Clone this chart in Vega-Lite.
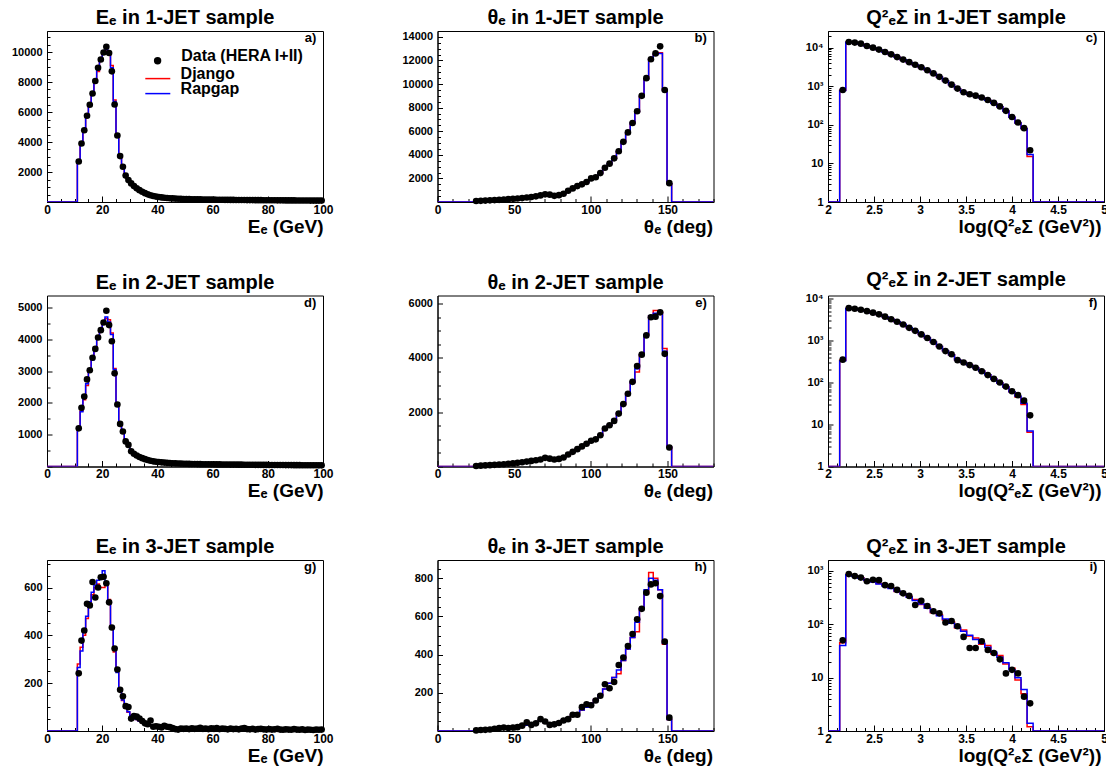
{
"$schema": "https://vega.github.io/schema/vega-lite/v6.json",
"padding": {"left": 10, "top": 7, "right": 0, "bottom": 0},
"background": "white",
"config": {
  "font": "Liberation Sans",
  "view": {"stroke": "#000000", "strokeWidth": 1},
  "axis": {"grid": false, "tickCount": 200, "domainColor": "#000000", "domainWidth": 1, "tickColor": "#000000", "tickWidth": 1, "labelColor": "#000000", "labelFont": "Liberation Sans", "labelFontWeight": "bold", "labelFlush": false, "labelOverlap": false, "labelSeparation": -40, "titleColor": "#000000", "titleFont": "Liberation Sans", "titleFontWeight": "bold"},
  "axisX": {"labelFontSize": 12, "labelPadding": 8, "titleFontSize": 19, "titleAnchor": "end", "titleAlign": "right", "titleBaseline": "alphabetic", "titleY": 30},
  "axisY": {"labelFontSize": 11, "labelPadding": 10, "labelSeparation": -40},
  "legend": {"title": null, "orient": "none", "padding": 0, "labelFont": "Liberation Sans", "labelFontWeight": "bold", "labelColor": "#000000", "labelBaseline": "alphabetic", "labelLimit": 400},
  "title": {"fontSize": 20, "fontWeight": "bold", "font": "Liberation Sans", "color": "#000000", "frame": "group", "anchor": "middle", "offset": 3, "baseline": "alphabetic"}
},
"datasets": {
"a": [{"x":0,"d":null,"dj":0,"rg":0},{"x":10.5,"d":null,"dj":0,"rg":0},
{"x":11.5,"d":2700,"dj":2700,"rg":2650},{"x":12.5,"d":3900,"dj":3880,"rg":3850},{"x":13.5,"d":4780,"dj":4720,"rg":4750},{"x":14.5,"d":5750,"dj":5680,"rg":5700},{"x":15.5,"d":6480,"dj":6450,"rg":6500},{"x":16.5,"d":7230,"dj":7250,"rg":7300},{"x":17.5,"d":8070,"dj":8000,"rg":8000},{"x":18.5,"d":8950,"dj":8700,"rg":8800},{"x":19.5,"d":9500,"dj":9400,"rg":9450},{"x":20.5,"d":9970,"dj":9950,"rg":9900},{"x":21.5,"d":10350,"dj":10100,"rg":10150},{"x":22.5,"d":9930,"dj":9900,"rg":9950},{"x":23.5,"d":8710,"dj":9100,"rg":8950},{"x":24.5,"d":6500,"dj":6800,"rg":6700},{"x":25.5,"d":4430,"dj":4400,"rg":4450},{"x":26.5,"d":3060,"dj":3050,"rg":3050},{"x":27.5,"d":2350,"dj":2300,"rg":2300},{"x":28.5,"d":1760,"dj":1740,"rg":1750},{"x":29.5,"d":1460,"dj":1450,"rg":1450},{"x":30.5,"d":1240,"dj":1230,"rg":1235},{"x":31.5,"d":1060,"dj":1050,"rg":1055},{"x":32.5,"d":910,"dj":905,"rg":905},{"x":33.5,"d":790,"dj":785,"rg":785},{"x":34.5,"d":680,"dj":675,"rg":678},{"x":35.5,"d":590,"dj":585,"rg":588},{"x":36.5,"d":510,"dj":508,"rg":508},{"x":37.5,"d":450,"dj":447,"rg":448},{"x":38.5,"d":400,"dj":398,"rg":398},{"x":39.5,"d":360,"dj":358,"rg":358},{"x":40.5,"d":330,"dj":328,"rg":328},
{"x":41.5,"d":305,"dj":305,"rg":305},{"x":42.5,"d":285,"dj":285,"rg":285},{"x":43.5,"d":268,"dj":268,"rg":268},{"x":44.5,"d":253,"dj":253,"rg":253},{"x":45.5,"d":240,"dj":240,"rg":240},{"x":46.5,"d":229,"dj":229,"rg":229},{"x":47.5,"d":219,"dj":219,"rg":219},{"x":48.5,"d":210,"dj":210,"rg":210},{"x":49.5,"d":202,"dj":202,"rg":202},{"x":50.5,"d":195,"dj":195,"rg":195},
{"x":51.5,"d":189,"dj":189,"rg":189},{"x":52.5,"d":184,"dj":184,"rg":184},{"x":53.5,"d":179,"dj":179,"rg":179},{"x":54.5,"d":175,"dj":175,"rg":175},{"x":55.5,"d":171,"dj":171,"rg":171},{"x":56.5,"d":167,"dj":167,"rg":167},{"x":57.5,"d":164,"dj":164,"rg":164},{"x":58.5,"d":161,"dj":161,"rg":161},{"x":59.5,"d":158,"dj":158,"rg":158},{"x":60.5,"d":155,"dj":155,"rg":155},
{"x":61.5,"d":152,"dj":152,"rg":152},{"x":62.5,"d":150,"dj":150,"rg":150},{"x":63.5,"d":147,"dj":147,"rg":147},{"x":64.5,"d":145,"dj":145,"rg":145},{"x":65.5,"d":143,"dj":143,"rg":143},{"x":66.5,"d":141,"dj":141,"rg":141},{"x":67.5,"d":139,"dj":139,"rg":139},{"x":68.5,"d":137,"dj":137,"rg":137},{"x":69.5,"d":135,"dj":135,"rg":135},{"x":70.5,"d":133,"dj":133,"rg":133},
{"x":71.5,"d":131,"dj":131,"rg":131},{"x":72.5,"d":129,"dj":129,"rg":129},{"x":73.5,"d":127,"dj":127,"rg":127},{"x":74.5,"d":126,"dj":126,"rg":126},{"x":75.5,"d":124,"dj":124,"rg":124},{"x":76.5,"d":122,"dj":122,"rg":122},{"x":77.5,"d":121,"dj":121,"rg":121},{"x":78.5,"d":119,"dj":119,"rg":119},{"x":79.5,"d":118,"dj":118,"rg":118},{"x":80.5,"d":116,"dj":116,"rg":116},
{"x":81.5,"d":115,"dj":115,"rg":115},{"x":82.5,"d":113,"dj":113,"rg":113},{"x":83.5,"d":112,"dj":112,"rg":112},{"x":84.5,"d":110,"dj":110,"rg":110},{"x":85.5,"d":109,"dj":109,"rg":109},{"x":86.5,"d":108,"dj":108,"rg":108},{"x":87.5,"d":106,"dj":106,"rg":106},{"x":88.5,"d":105,"dj":105,"rg":105},{"x":89.5,"d":104,"dj":104,"rg":104},{"x":90.5,"d":102,"dj":102,"rg":102},
{"x":91.5,"d":101,"dj":101,"rg":101},{"x":92.5,"d":100,"dj":100,"rg":100},{"x":93.5,"d":99,"dj":99,"rg":99},{"x":94.5,"d":98,"dj":98,"rg":98},{"x":95.5,"d":96,"dj":96,"rg":96},{"x":96.5,"d":95,"dj":95,"rg":95},{"x":97.5,"d":94,"dj":94,"rg":94},{"x":98.5,"d":93,"dj":93,"rg":93},{"x":99.5,"d":92,"dj":92,"rg":92},{"x":100,"d":null,"dj":92,"rg":92}],
"b": [{"x":0,"d":null,"dj":0,"rg":0},{"x":22.2,"d":null,"dj":0,"rg":0},
{"x":25.2,"d":80,"dj":80,"rg":80},{"x":28.2,"d":100,"dj":100,"rg":100},{"x":31.2,"d":120,"dj":120,"rg":120},{"x":34.2,"d":140,"dj":140,"rg":140},{"x":37.2,"d":160,"dj":160,"rg":160},{"x":40.2,"d":185,"dj":185,"rg":185},{"x":43.2,"d":210,"dj":210,"rg":210},{"x":46.2,"d":240,"dj":240,"rg":240},{"x":49.2,"d":270,"dj":270,"rg":270},{"x":52.2,"d":300,"dj":300,"rg":300},{"x":55.2,"d":330,"dj":330,"rg":330},{"x":58.2,"d":380,"dj":380,"rg":380},{"x":61.2,"d":420,"dj":420,"rg":420},{"x":64.2,"d":480,"dj":480,"rg":480},{"x":67.2,"d":560,"dj":560,"rg":560},{"x":70.2,"d":650,"dj":640,"rg":640},{"x":73.2,"d":620,"dj":610,"rg":610},{"x":76.2,"d":520,"dj":525,"rg":525},{"x":79.2,"d":580,"dj":580,"rg":580},{"x":82.2,"d":700,"dj":700,"rg":700},{"x":85.2,"d":950,"dj":940,"rg":940},{"x":88.2,"d":1150,"dj":1150,"rg":1150},{"x":91.2,"d":1350,"dj":1350,"rg":1350},{"x":94.2,"d":1500,"dj":1500,"rg":1500},{"x":97.2,"d":1700,"dj":1700,"rg":1700},{"x":100.2,"d":2000,"dj":1980,"rg":1980},{"x":103.2,"d":2100,"dj":2120,"rg":2120},{"x":106.2,"d":2450,"dj":2450,"rg":2450},{"x":109.2,"d":2900,"dj":2880,"rg":2880},{"x":112.2,"d":3250,"dj":3250,"rg":3250},{"x":115.2,"d":3700,"dj":3700,"rg":3700},{"x":118.2,"d":4300,"dj":4280,"rg":4280},{"x":121.2,"d":5100,"dj":5100,"rg":5100},{"x":124.2,"d":5900,"dj":5880,"rg":5880},{"x":127.2,"d":6700,"dj":6700,"rg":6700},{"x":130.2,"d":7700,"dj":7650,"rg":7650},{"x":133.2,"d":9000,"dj":8950,"rg":8950},{"x":136.2,"d":10500,"dj":10450,"rg":10450},{"x":139.2,"d":12100,"dj":12100,"rg":12100},{"x":142.2,"d":12600,"dj":12500,"rg":12500},{"x":145.2,"d":13200,"dj":12650,"rg":12600},{"x":148.2,"d":9500,"dj":9500,"rg":9500},{"x":151.2,"d":1600,"dj":1550,"rg":1550},
{"x":154.2,"d":null,"dj":0,"rg":0},{"x":180,"d":null,"dj":0,"rg":0}],
"c": [{"x":2.0,"d":null,"dj":1,"rg":1},{"x":2.094,"d":null,"dj":1,"rg":1},
{"x":2.160,"d":800,"dj":790,"rg":780},{"x":2.226,"d":14000,"dj":13800,"rg":13700},{"x":2.291,"d":13500,"dj":13300,"rg":13300},{"x":2.357,"d":12700,"dj":12500,"rg":12500},{"x":2.423,"d":11000,"dj":11100,"rg":11000},{"x":2.489,"d":10000,"dj":9900,"rg":9900},{"x":2.554,"d":8900,"dj":8800,"rg":8800},{"x":2.620,"d":7700,"dj":7700,"rg":7650},{"x":2.686,"d":6700,"dj":6650,"rg":6650},{"x":2.751,"d":5700,"dj":5700,"rg":5650},{"x":2.817,"d":4900,"dj":4850,"rg":4850},{"x":2.883,"d":4200,"dj":4150,"rg":4150},{"x":2.948,"d":3600,"dj":3550,"rg":3550},{"x":3.014,"d":3100,"dj":3050,"rg":3050},{"x":3.080,"d":2600,"dj":2580,"rg":2580},{"x":3.146,"d":2150,"dj":2130,"rg":2130},{"x":3.211,"d":1750,"dj":1740,"rg":1740},{"x":3.277,"d":1400,"dj":1390,"rg":1390},{"x":3.343,"d":1100,"dj":1090,"rg":1090},{"x":3.408,"d":870,"dj":860,"rg":865},{"x":3.474,"d":700,"dj":700,"rg":700},{"x":3.540,"d":620,"dj":615,"rg":615},{"x":3.605,"d":570,"dj":565,"rg":565},{"x":3.671,"d":510,"dj":505,"rg":505},{"x":3.737,"d":440,"dj":435,"rg":435},{"x":3.803,"d":370,"dj":365,"rg":365},{"x":3.868,"d":300,"dj":295,"rg":295},{"x":3.934,"d":230,"dj":228,"rg":228},{"x":4.000,"d":160,"dj":158,"rg":158},{"x":4.065,"d":115,"dj":112,"rg":112},{"x":4.131,"d":82,"dj":80,"rg":80},{"x":4.197,"d":22,"dj":15,"rg":17},
{"x":4.262,"d":null,"dj":1,"rg":1},{"x":5.0,"d":null,"dj":1,"rg":1}],
"d": [{"x":0,"d":null,"dj":0,"rg":0},{"x":10.5,"d":null,"dj":0,"rg":0},
{"x":11.5,"d":1200,"dj":1200,"rg":1180},{"x":12.5,"d":1850,"dj":1750,"rg":1720},{"x":13.5,"d":2200,"dj":2100,"rg":2150},{"x":14.5,"d":2740,"dj":2550,"rg":2600},{"x":15.5,"d":3030,"dj":3050,"rg":3000},{"x":16.5,"d":3420,"dj":3380,"rg":3350},{"x":17.5,"d":3700,"dj":3680,"rg":3700},{"x":18.5,"d":4060,"dj":4050,"rg":4000},{"x":19.5,"d":4290,"dj":4250,"rg":4300},{"x":20.5,"d":4530,"dj":4550,"rg":4500},{"x":21.5,"d":4900,"dj":4650,"rg":4700},{"x":22.5,"d":4450,"dj":4620,"rg":4550},{"x":23.5,"d":3940,"dj":4200,"rg":4150},{"x":24.5,"d":2930,"dj":3080,"rg":3050},{"x":25.5,"d":1950,"dj":1970,"rg":1950},{"x":26.5,"d":1340,"dj":1330,"rg":1330},{"x":27.5,"d":1100,"dj":1080,"rg":1080},{"x":28.5,"d":790,"dj":790,"rg":790},{"x":29.5,"d":680,"dj":670,"rg":670},{"x":30.5,"d":480,"dj":480,"rg":480},
{"x":31.5,"d":400,"dj":400,"rg":400},{"x":32.5,"d":345,"dj":345,"rg":345},{"x":33.5,"d":300,"dj":300,"rg":300},{"x":34.5,"d":262,"dj":262,"rg":262},{"x":35.5,"d":230,"dj":230,"rg":230},{"x":36.5,"d":203,"dj":203,"rg":203},{"x":37.5,"d":180,"dj":180,"rg":180},{"x":38.5,"d":162,"dj":162,"rg":162},{"x":39.5,"d":150,"dj":150,"rg":150},{"x":40.5,"d":140,"dj":140,"rg":140},
{"x":41.5,"d":130,"dj":130,"rg":130},{"x":42.5,"d":122,"dj":122,"rg":122},{"x":43.5,"d":115,"dj":115,"rg":115},{"x":44.5,"d":109,"dj":109,"rg":109},{"x":45.5,"d":104,"dj":104,"rg":104},{"x":46.5,"d":99,"dj":99,"rg":99},{"x":47.5,"d":95,"dj":95,"rg":95},{"x":48.5,"d":91,"dj":91,"rg":91},{"x":49.5,"d":88,"dj":88,"rg":88},{"x":50.5,"d":85,"dj":85,"rg":85},
{"x":51.5,"d":82,"dj":82,"rg":82},{"x":52.5,"d":80,"dj":80,"rg":80},{"x":53.5,"d":78,"dj":78,"rg":78},{"x":54.5,"d":76,"dj":76,"rg":76},{"x":55.5,"d":74,"dj":74,"rg":74},{"x":56.5,"d":72,"dj":72,"rg":72},{"x":57.5,"d":71,"dj":71,"rg":71},{"x":58.5,"d":69,"dj":69,"rg":69},{"x":59.5,"d":68,"dj":68,"rg":68},{"x":60.5,"d":67,"dj":67,"rg":67},
{"x":61.5,"d":66,"dj":66,"rg":66},{"x":62.5,"d":65,"dj":65,"rg":65},{"x":63.5,"d":64,"dj":64,"rg":64},{"x":64.5,"d":63,"dj":63,"rg":63},{"x":65.5,"d":62,"dj":62,"rg":62},{"x":66.5,"d":61,"dj":61,"rg":61},{"x":67.5,"d":60,"dj":60,"rg":60},{"x":68.5,"d":59,"dj":59,"rg":59},{"x":69.5,"d":58,"dj":58,"rg":58},{"x":70.5,"d":57,"dj":57,"rg":57},
{"x":71.5,"d":56,"dj":56,"rg":56},{"x":72.5,"d":55,"dj":55,"rg":55},{"x":73.5,"d":55,"dj":55,"rg":55},{"x":74.5,"d":54,"dj":54,"rg":54},{"x":75.5,"d":53,"dj":53,"rg":53},{"x":76.5,"d":52,"dj":52,"rg":52},{"x":77.5,"d":52,"dj":52,"rg":52},{"x":78.5,"d":51,"dj":51,"rg":51},{"x":79.5,"d":50,"dj":50,"rg":50},{"x":80.5,"d":49,"dj":49,"rg":49},
{"x":81.5,"d":49,"dj":49,"rg":49},{"x":82.5,"d":48,"dj":48,"rg":48},{"x":83.5,"d":47,"dj":47,"rg":47},{"x":84.5,"d":47,"dj":47,"rg":47},{"x":85.5,"d":46,"dj":46,"rg":46},{"x":86.5,"d":45,"dj":45,"rg":45},{"x":87.5,"d":45,"dj":45,"rg":45},{"x":88.5,"d":44,"dj":44,"rg":44},{"x":89.5,"d":43,"dj":43,"rg":43},{"x":90.5,"d":43,"dj":43,"rg":43},
{"x":91.5,"d":42,"dj":42,"rg":42},{"x":92.5,"d":41,"dj":41,"rg":41},{"x":93.5,"d":41,"dj":41,"rg":41},{"x":94.5,"d":40,"dj":40,"rg":40},{"x":95.5,"d":39,"dj":39,"rg":39},{"x":96.5,"d":39,"dj":39,"rg":39},{"x":97.5,"d":38,"dj":38,"rg":38},{"x":98.5,"d":37,"dj":37,"rg":37},{"x":99.5,"d":37,"dj":37,"rg":37},{"x":100,"d":null,"dj":37,"rg":37}],
"e": [{"x":0,"d":null,"dj":0,"rg":0},{"x":22.2,"d":null,"dj":0,"rg":0},
{"x":25.2,"d":20,"dj":20,"rg":20},{"x":28.2,"d":30,"dj":30,"rg":30},{"x":31.2,"d":40,"dj":40,"rg":40},{"x":34.2,"d":50,"dj":50,"rg":50},{"x":37.2,"d":60,"dj":60,"rg":60},{"x":40.2,"d":72,"dj":72,"rg":72},{"x":43.2,"d":85,"dj":85,"rg":85},{"x":46.2,"d":100,"dj":100,"rg":100},{"x":49.2,"d":115,"dj":115,"rg":115},{"x":52.2,"d":135,"dj":135,"rg":135},{"x":55.2,"d":155,"dj":155,"rg":155},{"x":58.2,"d":180,"dj":180,"rg":180},{"x":61.2,"d":205,"dj":205,"rg":205},{"x":64.2,"d":230,"dj":230,"rg":230},{"x":67.2,"d":260,"dj":260,"rg":260},{"x":70.2,"d":320,"dj":310,"rg":310},{"x":73.2,"d":290,"dj":285,"rg":285},{"x":76.2,"d":260,"dj":265,"rg":265},{"x":79.2,"d":280,"dj":280,"rg":280},{"x":82.2,"d":330,"dj":330,"rg":330},{"x":85.2,"d":440,"dj":440,"rg":440},{"x":88.2,"d":540,"dj":540,"rg":540},{"x":91.2,"d":640,"dj":640,"rg":640},{"x":94.2,"d":740,"dj":740,"rg":740},{"x":97.2,"d":840,"dj":840,"rg":840},{"x":100.2,"d":950,"dj":950,"rg":950},{"x":103.2,"d":1000,"dj":1010,"rg":1010},{"x":106.2,"d":1150,"dj":1160,"rg":1160},{"x":109.2,"d":1400,"dj":1400,"rg":1400},{"x":112.2,"d":1520,"dj":1530,"rg":1530},{"x":115.2,"d":1680,"dj":1700,"rg":1700},{"x":118.2,"d":1950,"dj":1960,"rg":1960},{"x":121.2,"d":2300,"dj":2280,"rg":2300},{"x":124.2,"d":2680,"dj":2680,"rg":2680},{"x":127.2,"d":3120,"dj":3100,"rg":3120},{"x":130.2,"d":3700,"dj":3480,"rg":3600},{"x":133.2,"d":4120,"dj":4120,"rg":4120},{"x":136.2,"d":4830,"dj":4850,"rg":4850},{"x":139.2,"d":5500,"dj":5550,"rg":5550},{"x":142.2,"d":5520,"dj":5750,"rg":5650},{"x":145.2,"d":5680,"dj":5700,"rg":5650},{"x":148.2,"d":4150,"dj":4350,"rg":4250},{"x":151.2,"d":700,"dj":720,"rg":720},
{"x":154.2,"d":null,"dj":0,"rg":0},{"x":180,"d":null,"dj":0,"rg":0}],
"f": [{"x":2.0,"d":null,"dj":1,"rg":1},{"x":2.094,"d":null,"dj":1,"rg":1},
{"x":2.160,"d":350,"dj":340,"rg":330},{"x":2.226,"d":5900,"dj":5800,"rg":5800},{"x":2.291,"d":5700,"dj":5650,"rg":5650},{"x":2.357,"d":5400,"dj":5350,"rg":5350},{"x":2.423,"d":5000,"dj":4950,"rg":4950},{"x":2.489,"d":4600,"dj":4550,"rg":4550},{"x":2.554,"d":4200,"dj":4150,"rg":4150},{"x":2.620,"d":3700,"dj":3700,"rg":3700},{"x":2.686,"d":3200,"dj":3200,"rg":3200},{"x":2.751,"d":2800,"dj":2780,"rg":2780},{"x":2.817,"d":2400,"dj":2400,"rg":2400},{"x":2.883,"d":2000,"dj":2000,"rg":2000},{"x":2.948,"d":1700,"dj":1700,"rg":1700},{"x":3.014,"d":1400,"dj":1400,"rg":1400},{"x":3.080,"d":1150,"dj":1150,"rg":1150},{"x":3.146,"d":920,"dj":920,"rg":920},{"x":3.211,"d":720,"dj":720,"rg":720},{"x":3.277,"d":560,"dj":570,"rg":570},{"x":3.343,"d":470,"dj":460,"rg":460},{"x":3.408,"d":340,"dj":350,"rg":350},{"x":3.474,"d":300,"dj":300,"rg":300},{"x":3.540,"d":260,"dj":262,"rg":262},{"x":3.605,"d":225,"dj":226,"rg":226},{"x":3.671,"d":185,"dj":188,"rg":188},{"x":3.737,"d":150,"dj":152,"rg":152},{"x":3.803,"d":122,"dj":122,"rg":122},{"x":3.868,"d":100,"dj":98,"rg":98},{"x":3.934,"d":80,"dj":78,"rg":78},{"x":4.000,"d":62,"dj":60,"rg":60},{"x":4.065,"d":50,"dj":45,"rg":47},{"x":4.131,"d":37,"dj":30,"rg":32},{"x":4.197,"d":16.5,"dj":6.5,"rg":7},
{"x":4.262,"d":null,"dj":1,"rg":1},{"x":5.0,"d":null,"dj":1,"rg":1}],
"g": [{"x":0,"d":null,"dj":0,"rg":0},{"x":10.5,"d":null,"dj":0,"rg":0},
{"x":11.5,"d":241,"dj":280,"rg":265},{"x":12.5,"d":378,"dj":350,"rg":335},{"x":13.5,"d":420,"dj":400,"rg":420},{"x":14.5,"d":532,"dj":470,"rg":480},{"x":15.5,"d":525,"dj":530,"rg":540},{"x":16.5,"d":623,"dj":570,"rg":580},{"x":17.5,"d":558,"dj":600,"rg":610},{"x":18.5,"d":600,"dj":615,"rg":630},{"x":19.5,"d":643,"dj":600,"rg":640},{"x":20.5,"d":645,"dj":600,"rg":670},{"x":21.5,"d":618,"dj":610,"rg":620},{"x":22.5,"d":538,"dj":550,"rg":545},{"x":23.5,"d":433,"dj":430,"rg":440},{"x":24.5,"d":345,"dj":330,"rg":340},{"x":25.5,"d":257,"dj":250,"rg":245},{"x":26.5,"d":172,"dj":170,"rg":175},{"x":27.5,"d":145,"dj":128,"rg":130},{"x":28.5,"d":104,"dj":95,"rg":98},{"x":29.5,"d":100,"dj":78,"rg":80},{"x":30.5,"d":52,"dj":66,"rg":65},{"x":31.5,"d":62,"dj":56,"rg":55},{"x":32.5,"d":60,"dj":48,"rg":48},{"x":33.5,"d":52,"dj":42,"rg":42},{"x":34.5,"d":42,"dj":36,"rg":37},{"x":35.5,"d":32,"dj":32,"rg":32},{"x":36.5,"d":28,"dj":28,"rg":29},{"x":37.5,"d":44,"dj":25,"rg":26},{"x":38.5,"d":18,"dj":23,"rg":23},{"x":39.5,"d":20,"dj":21,"rg":21},{"x":40.5,"d":18,"dj":19,"rg":19},
{"x":41.5,"d":15,"dj":18,"rg":18},{"x":42.5,"d":22,"dj":17,"rg":17},{"x":43.5,"d":18,"dj":16,"rg":16},{"x":44.5,"d":16,"dj":15,"rg":15},{"x":45.5,"d":12,"dj":14,"rg":14},{"x":46.5,"d":8,"dj":13,"rg":13},{"x":47.5,"d":6,"dj":12,"rg":12},{"x":48.5,"d":10,"dj":12,"rg":12},{"x":49.5,"d":9,"dj":11,"rg":11},
{"x":50.5,"d":10,"dj":11,"rg":11},{"x":51.5,"d":8,"dj":11,"rg":11},{"x":52.5,"d":11,"dj":10,"rg":10},{"x":53.5,"d":9,"dj":10,"rg":10},{"x":54.5,"d":10,"dj":10,"rg":10},{"x":55.5,"d":13,"dj":10,"rg":10},{"x":56.5,"d":9,"dj":10,"rg":10},{"x":57.5,"d":10,"dj":9,"rg":9},{"x":58.5,"d":8,"dj":9,"rg":9},{"x":59.5,"d":11,"dj":9,"rg":9},
{"x":60.5,"d":9,"dj":9,"rg":9},{"x":61.5,"d":12,"dj":9,"rg":9},{"x":62.5,"d":8,"dj":9,"rg":9},{"x":63.5,"d":10,"dj":9,"rg":9},{"x":64.5,"d":9,"dj":8,"rg":8},{"x":65.5,"d":7,"dj":8,"rg":8},{"x":66.5,"d":10,"dj":8,"rg":8},{"x":67.5,"d":8,"dj":8,"rg":8},{"x":68.5,"d":9,"dj":8,"rg":8},{"x":69.5,"d":7,"dj":8,"rg":8},
{"x":70.5,"d":10,"dj":8,"rg":8},{"x":71.5,"d":12,"dj":8,"rg":8},{"x":72.5,"d":8,"dj":7,"rg":7},{"x":73.5,"d":7,"dj":7,"rg":7},{"x":74.5,"d":9,"dj":7,"rg":7},{"x":75.5,"d":6,"dj":7,"rg":7},{"x":76.5,"d":8,"dj":7,"rg":7},{"x":77.5,"d":9,"dj":7,"rg":7},{"x":78.5,"d":7,"dj":7,"rg":7},{"x":79.5,"d":6,"dj":7,"rg":7},
{"x":80.5,"d":8,"dj":7,"rg":7},{"x":81.5,"d":6,"dj":6,"rg":6},{"x":82.5,"d":7,"dj":6,"rg":6},{"x":83.5,"d":9,"dj":6,"rg":6},{"x":84.5,"d":6,"dj":6,"rg":6},{"x":85.5,"d":5,"dj":6,"rg":6},{"x":86.5,"d":7,"dj":6,"rg":6},{"x":87.5,"d":6,"dj":6,"rg":6},{"x":88.5,"d":5,"dj":6,"rg":6},{"x":89.5,"d":8,"dj":6,"rg":6},
{"x":90.5,"d":6,"dj":6,"rg":6},{"x":91.5,"d":5,"dj":6,"rg":6},{"x":92.5,"d":7,"dj":5,"rg":5},{"x":93.5,"d":4,"dj":5,"rg":5},{"x":94.5,"d":6,"dj":5,"rg":5},{"x":95.5,"d":5,"dj":5,"rg":5},{"x":96.5,"d":4,"dj":5,"rg":5},{"x":97.5,"d":6,"dj":5,"rg":5},{"x":98.5,"d":5,"dj":5,"rg":5},{"x":99.5,"d":6,"dj":5,"rg":5},{"x":100,"d":null,"dj":5,"rg":5}],
"h": [{"x":0,"d":null,"dj":0,"rg":0},{"x":22.2,"d":null,"dj":0,"rg":0},
{"x":25.2,"d":3,"dj":3,"rg":3},{"x":28.2,"d":5,"dj":5,"rg":5},{"x":31.2,"d":6,"dj":6,"rg":6},{"x":34.2,"d":8,"dj":8,"rg":8},{"x":37.2,"d":12,"dj":10,"rg":10},{"x":40.2,"d":15,"dj":12,"rg":12},{"x":43.2,"d":18,"dj":14,"rg":14},{"x":46.2,"d":16,"dj":16,"rg":16},{"x":49.2,"d":18,"dj":19,"rg":19},{"x":52.2,"d":20,"dj":22,"rg":22},{"x":55.2,"d":28,"dj":26,"rg":26},{"x":58.2,"d":45,"dj":30,"rg":30},{"x":61.2,"d":32,"dj":35,"rg":35},{"x":64.2,"d":40,"dj":42,"rg":42},{"x":67.2,"d":62,"dj":55,"rg":55},{"x":70.2,"d":50,"dj":45,"rg":45},{"x":73.2,"d":32,"dj":35,"rg":35},{"x":76.2,"d":35,"dj":40,"rg":40},{"x":79.2,"d":42,"dj":48,"rg":48},{"x":82.2,"d":55,"dj":58,"rg":58},{"x":85.2,"d":62,"dj":70,"rg":70},{"x":88.2,"d":85,"dj":82,"rg":82},{"x":91.2,"d":85,"dj":95,"rg":95},{"x":94.2,"d":125,"dj":110,"rg":110},{"x":97.2,"d":140,"dj":125,"rg":125},{"x":100.2,"d":135,"dj":145,"rg":145},{"x":103.2,"d":160,"dj":165,"rg":165},{"x":106.2,"d":185,"dj":190,"rg":190},{"x":109.2,"d":245,"dj":220,"rg":220},{"x":112.2,"d":224,"dj":250,"rg":250},{"x":115.2,"d":257,"dj":280,"rg":280},{"x":118.2,"d":346,"dj":300,"rg":320},{"x":121.2,"d":385,"dj":370,"rg":370},{"x":124.2,"d":445,"dj":430,"rg":430},{"x":127.2,"d":508,"dj":490,"rg":490},{"x":130.2,"d":585,"dj":520,"rg":570},{"x":133.2,"d":640,"dj":640,"rg":640},{"x":136.2,"d":725,"dj":720,"rg":740},{"x":139.2,"d":768,"dj":830,"rg":800},{"x":142.2,"d":774,"dj":800,"rg":790},{"x":145.2,"d":707,"dj":740,"rg":740},{"x":148.2,"d":468,"dj":455,"rg":460},{"x":151.2,"d":70,"dj":60,"rg":60},
{"x":154.2,"d":null,"dj":0,"rg":0},{"x":180,"d":null,"dj":0,"rg":0}],
"i": [{"x":2.0,"d":null,"dj":1,"rg":1},{"x":2.094,"d":null,"dj":1,"rg":1},
{"x":2.160,"d":50,"dj":45,"rg":40},{"x":2.226,"d":870,"dj":860,"rg":850},{"x":2.291,"d":800,"dj":800,"rg":790},{"x":2.357,"d":750,"dj":740,"rg":730},{"x":2.423,"d":640,"dj":660,"rg":670},{"x":2.489,"d":680,"dj":630,"rg":620},{"x":2.554,"d":670,"dj":580,"rg":570},{"x":2.620,"d":540,"dj":530,"rg":520},{"x":2.686,"d":520,"dj":480,"rg":470},{"x":2.751,"d":440,"dj":410,"rg":420},{"x":2.817,"d":380,"dj":375,"rg":370},{"x":2.883,"d":340,"dj":330,"rg":320},{"x":2.948,"d":230,"dj":290,"rg":280},{"x":3.014,"d":275,"dj":235,"rg":240},{"x":3.080,"d":220,"dj":205,"rg":200},{"x":3.146,"d":175,"dj":165,"rg":170},{"x":3.211,"d":160,"dj":150,"rg":145},{"x":3.277,"d":108,"dj":120,"rg":125},{"x":3.343,"d":115,"dj":110,"rg":105},{"x":3.408,"d":92,"dj":85,"rg":88},{"x":3.474,"d":58,"dj":78,"rg":74},{"x":3.540,"d":36,"dj":60,"rg":62},{"x":3.605,"d":36,"dj":55,"rg":52},{"x":3.671,"d":48,"dj":42,"rg":44},{"x":3.737,"d":33,"dj":40,"rg":37},{"x":3.803,"d":29,"dj":28,"rg":30},{"x":3.868,"d":22,"dj":26,"rg":24},{"x":3.934,"d":12,"dj":18,"rg":19},{"x":4.000,"d":14,"dj":15,"rg":14},{"x":4.065,"d":12,"dj":9,"rg":10},{"x":4.131,"d":4.4,"dj":5,"rg":6},{"x":4.197,"d":3.3,"dj":1.2,"rg":1.4},
{"x":4.262,"d":null,"dj":1,"rg":1},{"x":5.0,"d":null,"dj":1,"rg":1}]
},
"columns": 3,
"spacing": {"row": 93.5, "column": 114.5},
"bounds": "flush",
"resolve": {"scale": {"color": "independent", "fill": "independent", "stroke": "independent", "shape": "independent"}},
"concat": [
{"width": 276, "height": 171, "title": "Eₑ in 1-JET sample", "data": {"name": "a"},
 "encoding": {"x": {"field": "x", "type": "quantitative", "scale": {"domain": [0, 100], "nice": false, "zero": false}, "axis": {"title": "Eₑ (GeV)", "titleX": 276, "tickCount": 200, "values": [0,5,10,15,20,25,30,35,40,45,50,55,60,65,70,75,80,85,90,95,100], "format": "d", "labelExpr": "datum.value % 20 === 0 ? datum.label : ''", "tickSize": {"condition": {"test": "datum.value % 20 === 0", "value": -6}, "value": -3.5}}}},
 "layer": [
  {"mark": {"type": "line", "interpolate": "step", "color": "#ff0000", "strokeWidth": 1.5, "clip": true}, "encoding": {"y": {"field": "dj", "type": "quantitative", "scale": {"domain": [0, 11400], "nice": false}, "axis": {"title": null, "tickCount": 200, "values": [0,500,1000,1500,2000,2500,3000,3500,4000,4500,5000,5500,6000,6500,7000,7500,8000,8500,9000,9500,10000,10500,11000], "format": "d", "labelExpr": "datum.value % 2000 === 0 && datum.value > 0 ? datum.label : ''", "labelFontSize": {"condition": {"test": "datum.value % 2000 === 0 && datum.value > 0", "value": 11}, "value": 0}, "tickSize": {"condition": {"test": "datum.value % 2000 === 0", "value": -5}, "value": -3}}},
    "stroke": {"datum": "Django", "type": "nominal", "scale": {"domain": ["Django"], "range": ["#ff0000"]}, "legend": {"legendX": 97.3, "legendY": 34.1, "symbolType": "stroke", "symbolSize": 625, "symbolStrokeWidth": 1.5, "labelOffset": 9.3, "labelFontSize": 16}}}},
  {"mark": {"type": "line", "interpolate": "step", "color": "#0000ff", "strokeWidth": 1.5, "clip": true}, "encoding": {"y": {"field": "rg", "type": "quantitative", "title": null},
    "color": {"datum": "Rapgap", "type": "nominal", "scale": {"domain": ["Rapgap"], "range": ["#0000ff"]}, "legend": {"legendX": 97.3, "legendY": 49.1, "symbolType": "stroke", "symbolSize": 625, "symbolStrokeWidth": 1.5, "labelOffset": 9.3, "labelFontSize": 16}}}},
  {"mark": {"type": "point", "filled": true, "size": 44, "opacity": 1, "strokeWidth": 0}, "encoding": {"y": {"field": "d", "type": "quantitative", "title": null},
    "fill": {"datum": "Data (HERA I+II)", "type": "nominal", "scale": {"domain": ["Data (HERA I+II)"], "range": ["#000000"]}, "legend": {"legendX": 102.6, "legendY": 21.75, "symbolType": "circle", "symbolSize": 55, "symbolStrokeWidth": 0, "labelOffset": 15.6, "labelFontSize": 16}},
    "shape": {"datum": "a)", "type": "nominal", "scale": {"domain": ["a)"], "range": ["circle"]}, "legend": {"legendX": 244.8, "legendY": 4.5, "symbolSize": 0, "symbolOpacity": 0, "symbolStrokeWidth": 0, "labelOffset": 0, "labelFontSize": 13}}}}
 ]},
{"width": 276, "height": 171, "title": "θₑ in 1-JET sample", "data": {"name": "b"},
 "encoding": {"x": {"field": "x", "type": "quantitative", "scale": {"domain": [0, 180], "nice": false, "zero": false}, "axis": {"title": "θₑ (deg)", "titleX": 275, "tickCount": 200, "values": [0,10,20,30,40,50,60,70,80,90,100,110,120,130,140,150,160,170,180], "format": "d", "labelExpr": "datum.value % 50 === 0 ? datum.label : ''", "tickSize": {"condition": {"test": "datum.value % 50 === 0", "value": -6}, "value": -3.5}}}},
 "layer": [
  {"mark": {"type": "line", "interpolate": "step", "color": "#ff0000", "strokeWidth": 1.5, "clip": true}, "encoding": {"y": {"field": "dj", "type": "quantitative", "scale": {"domain": [0, 14500], "nice": false}, "axis": {"title": null, "tickCount": 200, "values": [0,500,1000,1500,2000,2500,3000,3500,4000,4500,5000,5500,6000,6500,7000,7500,8000,8500,9000,9500,10000,10500,11000,11500,12000,12500,13000,13500,14000,14500], "format": "d", "labelExpr": "datum.value % 2000 === 0 && datum.value > 0 ? datum.label : ''", "labelFontSize": {"condition": {"test": "datum.value % 2000 === 0 && datum.value > 0", "value": 11}, "value": 0}, "tickSize": {"condition": {"test": "datum.value % 2000 === 0", "value": -5}, "value": -3}}}}},
  {"mark": {"type": "line", "interpolate": "step", "color": "#0000ff", "strokeWidth": 1.5, "clip": true}, "encoding": {"y": {"field": "rg", "type": "quantitative", "title": null}}},
  {"mark": {"type": "point", "filled": true, "color": "#000000", "size": 44, "opacity": 1, "strokeWidth": 0}, "encoding": {"y": {"field": "d", "type": "quantitative", "title": null},
    "shape": {"datum": "b)", "type": "nominal", "scale": {"domain": ["b)"], "range": ["circle"]}, "legend": {"legendX": 244.1, "legendY": 4.5, "symbolSize": 0, "symbolOpacity": 0, "symbolStrokeWidth": 0, "labelOffset": 0, "labelFontSize": 13}}}}
 ]},
{"width": 276, "height": 171, "title": "Q²ₑΣ in 1-JET sample", "data": {"name": "c"},
 "encoding": {"x": {"field": "x", "type": "quantitative", "scale": {"domain": [2, 5], "nice": false, "zero": false}, "axis": {"title": "log(Q²ₑΣ (GeV²))", "titleX": 273, "tickCount": 200, "values": [2,2.1,2.2,2.3,2.4,2.5,2.6,2.7,2.8,2.9,3,3.1,3.2,3.3,3.4,3.5,3.6,3.7,3.8,3.9,4,4.1,4.2,4.3,4.4,4.5,4.6,4.7,4.8,4.9,5], "labelExpr": "abs(datum.value*2 - round(datum.value*2)) < 0.001 ? format(datum.value, '~g') : ''", "tickSize": {"condition": {"test": "abs(datum.value*2 - round(datum.value*2)) < 0.001", "value": -6}, "value": -3.5}}}},
 "layer": [
  {"mark": {"type": "line", "interpolate": "step", "color": "#ff0000", "strokeWidth": 1.5, "clip": true}, "encoding": {"y": {"field": "dj", "type": "quantitative", "scale": {"type": "log", "domain": [1, 27000], "nice": false}, "axis": {"title": null, "tickCount": 200, "values": [1,2,3,4,5,6,7,8,9,10,20,30,40,50,60,70,80,90,100,200,300,400,500,600,700,800,900,1000,2000,3000,4000,5000,6000,7000,8000,9000,10000,20000], "labelExpr": "datum.value === 1 ? '1' : datum.value === 10 ? '10' : datum.value === 100 ? '10²' : datum.value === 1000 ? '10³' : datum.value === 10000 ? '10⁴' : ''", "labelFontSize": {"condition": {"test": "indexof([1,10,100,1000,10000], datum.value) >= 0", "value": 11}, "value": 0}, "tickSize": {"condition": {"test": "indexof([1,10,100,1000,10000], datum.value) >= 0", "value": -5}, "value": -3}}}}},
  {"mark": {"type": "line", "interpolate": "step", "color": "#0000ff", "strokeWidth": 1.5, "clip": true}, "encoding": {"y": {"field": "rg", "type": "quantitative", "title": null}}},
  {"mark": {"type": "point", "filled": true, "color": "#000000", "size": 44, "opacity": 1, "strokeWidth": 0}, "encoding": {"y": {"field": "d", "type": "quantitative", "title": null},
    "shape": {"datum": "c)", "type": "nominal", "scale": {"domain": ["c)"], "range": ["circle"]}, "legend": {"legendX": 244.8, "legendY": 4.5, "symbolSize": 0, "symbolOpacity": 0, "symbolStrokeWidth": 0, "labelOffset": 0, "labelFontSize": 13}}}}
 ]},
{"width": 276, "height": 171, "title": "Eₑ in 2-JET sample", "data": {"name": "d"},
 "encoding": {"x": {"field": "x", "type": "quantitative", "scale": {"domain": [0, 100], "nice": false, "zero": false}, "axis": {"title": "Eₑ (GeV)", "titleX": 276, "tickCount": 200, "values": [0,5,10,15,20,25,30,35,40,45,50,55,60,65,70,75,80,85,90,95,100], "format": "d", "labelExpr": "datum.value % 20 === 0 ? datum.label : ''", "tickSize": {"condition": {"test": "datum.value % 20 === 0", "value": -6}, "value": -3.5}}}},
 "layer": [
  {"mark": {"type": "line", "interpolate": "step", "color": "#ff0000", "strokeWidth": 1.5, "clip": true}, "encoding": {"y": {"field": "dj", "type": "quantitative", "scale": {"domain": [0, 5380], "nice": false}, "axis": {"title": null, "tickCount": 200, "values": [0,500,1000,1500,2000,2500,3000,3500,4000,4500,5000], "format": "d", "labelExpr": "datum.value % 1000 === 0 && datum.value > 0 ? datum.label : ''", "labelFontSize": {"condition": {"test": "datum.value % 1000 === 0 && datum.value > 0", "value": 11}, "value": 0}, "tickSize": {"condition": {"test": "datum.value % 1000 === 0", "value": -5}, "value": -3}}}}},
  {"mark": {"type": "line", "interpolate": "step", "color": "#0000ff", "strokeWidth": 1.5, "clip": true}, "encoding": {"y": {"field": "rg", "type": "quantitative", "title": null}}},
  {"mark": {"type": "point", "filled": true, "color": "#000000", "size": 44, "opacity": 1, "strokeWidth": 0}, "encoding": {"y": {"field": "d", "type": "quantitative", "title": null},
    "shape": {"datum": "d)", "type": "nominal", "scale": {"domain": ["d)"], "range": ["circle"]}, "legend": {"legendX": 244.1, "legendY": 4.5, "symbolSize": 0, "symbolOpacity": 0, "symbolStrokeWidth": 0, "labelOffset": 0, "labelFontSize": 13}}}}
 ]},
{"width": 276, "height": 171, "title": "θₑ in 2-JET sample", "data": {"name": "e"},
 "encoding": {"x": {"field": "x", "type": "quantitative", "scale": {"domain": [0, 180], "nice": false, "zero": false}, "axis": {"title": "θₑ (deg)", "titleX": 275, "tickCount": 200, "values": [0,10,20,30,40,50,60,70,80,90,100,110,120,130,140,150,160,170,180], "format": "d", "labelExpr": "datum.value % 50 === 0 ? datum.label : ''", "tickSize": {"condition": {"test": "datum.value % 50 === 0", "value": -6}, "value": -3.5}}}},
 "layer": [
  {"mark": {"type": "line", "interpolate": "step", "color": "#ff0000", "strokeWidth": 1.5, "clip": true}, "encoding": {"y": {"field": "dj", "type": "quantitative", "scale": {"domain": [0, 6300], "nice": false}, "axis": {"title": null, "tickCount": 200, "values": [0,500,1000,1500,2000,2500,3000,3500,4000,4500,5000,5500,6000], "format": "d", "labelExpr": "datum.value % 2000 === 0 && datum.value > 0 ? datum.label : ''", "labelFontSize": {"condition": {"test": "datum.value % 2000 === 0 && datum.value > 0", "value": 11}, "value": 0}, "tickSize": {"condition": {"test": "datum.value % 2000 === 0", "value": -5}, "value": -3}}}}},
  {"mark": {"type": "line", "interpolate": "step", "color": "#0000ff", "strokeWidth": 1.5, "clip": true}, "encoding": {"y": {"field": "rg", "type": "quantitative", "title": null}}},
  {"mark": {"type": "point", "filled": true, "color": "#000000", "size": 44, "opacity": 1, "strokeWidth": 0}, "encoding": {"y": {"field": "d", "type": "quantitative", "title": null},
    "shape": {"datum": "e)", "type": "nominal", "scale": {"domain": ["e)"], "range": ["circle"]}, "legend": {"legendX": 244.8, "legendY": 4.5, "symbolSize": 0, "symbolOpacity": 0, "symbolStrokeWidth": 0, "labelOffset": 0, "labelFontSize": 13}}}}
 ]},
{"width": 276, "height": 171, "title": "Q²ₑΣ in 2-JET sample", "data": {"name": "f"},
 "encoding": {"x": {"field": "x", "type": "quantitative", "scale": {"domain": [2, 5], "nice": false, "zero": false}, "axis": {"title": "log(Q²ₑΣ (GeV²))", "titleX": 273, "tickCount": 200, "values": [2,2.1,2.2,2.3,2.4,2.5,2.6,2.7,2.8,2.9,3,3.1,3.2,3.3,3.4,3.5,3.6,3.7,3.8,3.9,4,4.1,4.2,4.3,4.4,4.5,4.6,4.7,4.8,4.9,5], "labelExpr": "abs(datum.value*2 - round(datum.value*2)) < 0.001 ? format(datum.value, '~g') : ''", "tickSize": {"condition": {"test": "abs(datum.value*2 - round(datum.value*2)) < 0.001", "value": -6}, "value": -3.5}}}},
 "layer": [
  {"mark": {"type": "line", "interpolate": "step", "color": "#ff0000", "strokeWidth": 1.5, "clip": true}, "encoding": {"y": {"field": "dj", "type": "quantitative", "scale": {"type": "log", "domain": [1, 11800], "nice": false}, "axis": {"title": null, "tickCount": 200, "values": [1,2,3,4,5,6,7,8,9,10,20,30,40,50,60,70,80,90,100,200,300,400,500,600,700,800,900,1000,2000,3000,4000,5000,6000,7000,8000,9000,10000], "labelExpr": "datum.value === 1 ? '1' : datum.value === 10 ? '10' : datum.value === 100 ? '10²' : datum.value === 1000 ? '10³' : datum.value === 10000 ? '10⁴' : ''", "labelFontSize": {"condition": {"test": "indexof([1,10,100,1000,10000], datum.value) >= 0", "value": 11}, "value": 0}, "tickSize": {"condition": {"test": "indexof([1,10,100,1000,10000], datum.value) >= 0", "value": -5}, "value": -3}}}}},
  {"mark": {"type": "line", "interpolate": "step", "color": "#0000ff", "strokeWidth": 1.5, "clip": true}, "encoding": {"y": {"field": "rg", "type": "quantitative", "title": null}}},
  {"mark": {"type": "point", "filled": true, "color": "#000000", "size": 44, "opacity": 1, "strokeWidth": 0}, "encoding": {"y": {"field": "d", "type": "quantitative", "title": null},
    "shape": {"datum": "f)", "type": "nominal", "scale": {"domain": ["f)"], "range": ["circle"]}, "legend": {"legendX": 247.7, "legendY": 4.5, "symbolSize": 0, "symbolOpacity": 0, "symbolStrokeWidth": 0, "labelOffset": 0, "labelFontSize": 13}}}}
 ]},
{"width": 276, "height": 171, "title": "Eₑ in 3-JET sample", "data": {"name": "g"},
 "encoding": {"x": {"field": "x", "type": "quantitative", "scale": {"domain": [0, 100], "nice": false, "zero": false}, "axis": {"title": "Eₑ (GeV)", "titleX": 276, "tickCount": 200, "values": [0,5,10,15,20,25,30,35,40,45,50,55,60,65,70,75,80,85,90,95,100], "format": "d", "labelExpr": "datum.value % 20 === 0 ? datum.label : ''", "tickSize": {"condition": {"test": "datum.value % 20 === 0", "value": -6}, "value": -3.5}}}},
 "layer": [
  {"mark": {"type": "line", "interpolate": "step", "color": "#ff0000", "strokeWidth": 1.5, "clip": true}, "encoding": {"y": {"field": "dj", "type": "quantitative", "scale": {"domain": [0, 715], "nice": false}, "axis": {"title": null, "tickCount": 200, "values": [0,50,100,150,200,250,300,350,400,450,500,550,600,650,700], "format": "d", "labelExpr": "datum.value % 200 === 0 && datum.value > 0 ? datum.label : ''", "labelFontSize": {"condition": {"test": "datum.value % 200 === 0 && datum.value > 0", "value": 11}, "value": 0}, "tickSize": {"condition": {"test": "datum.value % 200 === 0", "value": -5}, "value": -3}}}}},
  {"mark": {"type": "line", "interpolate": "step", "color": "#0000ff", "strokeWidth": 1.5, "clip": true}, "encoding": {"y": {"field": "rg", "type": "quantitative", "title": null}}},
  {"mark": {"type": "point", "filled": true, "color": "#000000", "size": 44, "opacity": 1, "strokeWidth": 0}, "encoding": {"y": {"field": "d", "type": "quantitative", "title": null},
    "shape": {"datum": "g)", "type": "nominal", "scale": {"domain": ["g)"], "range": ["circle"]}, "legend": {"legendX": 244.1, "legendY": 4.5, "symbolSize": 0, "symbolOpacity": 0, "symbolStrokeWidth": 0, "labelOffset": 0, "labelFontSize": 13}}}}
 ]},
{"width": 276, "height": 171, "title": "θₑ in 3-JET sample", "data": {"name": "h"},
 "encoding": {"x": {"field": "x", "type": "quantitative", "scale": {"domain": [0, 180], "nice": false, "zero": false}, "axis": {"title": "θₑ (deg)", "titleX": 275, "tickCount": 200, "values": [0,10,20,30,40,50,60,70,80,90,100,110,120,130,140,150,160,170,180], "format": "d", "labelExpr": "datum.value % 50 === 0 ? datum.label : ''", "tickSize": {"condition": {"test": "datum.value % 50 === 0", "value": -6}, "value": -3.5}}}},
 "layer": [
  {"mark": {"type": "line", "interpolate": "step", "color": "#ff0000", "strokeWidth": 1.5, "clip": true}, "encoding": {"y": {"field": "dj", "type": "quantitative", "scale": {"domain": [0, 896], "nice": false}, "axis": {"title": null, "tickCount": 200, "values": [0,50,100,150,200,250,300,350,400,450,500,550,600,650,700,750,800,850], "format": "d", "labelExpr": "datum.value % 200 === 0 && datum.value > 0 ? datum.label : ''", "labelFontSize": {"condition": {"test": "datum.value % 200 === 0 && datum.value > 0", "value": 11}, "value": 0}, "tickSize": {"condition": {"test": "datum.value % 200 === 0", "value": -5}, "value": -3}}}}},
  {"mark": {"type": "line", "interpolate": "step", "color": "#0000ff", "strokeWidth": 1.5, "clip": true}, "encoding": {"y": {"field": "rg", "type": "quantitative", "title": null}}},
  {"mark": {"type": "point", "filled": true, "color": "#000000", "size": 44, "opacity": 1, "strokeWidth": 0}, "encoding": {"y": {"field": "d", "type": "quantitative", "title": null},
    "shape": {"datum": "h)", "type": "nominal", "scale": {"domain": ["h)"], "range": ["circle"]}, "legend": {"legendX": 244.1, "legendY": 4.5, "symbolSize": 0, "symbolOpacity": 0, "symbolStrokeWidth": 0, "labelOffset": 0, "labelFontSize": 13}}}}
 ]},
{"width": 276, "height": 171, "title": "Q²ₑΣ in 3-JET sample", "data": {"name": "i"},
 "encoding": {"x": {"field": "x", "type": "quantitative", "scale": {"domain": [2, 5], "nice": false, "zero": false}, "axis": {"title": "log(Q²ₑΣ (GeV²))", "titleX": 273, "tickCount": 200, "values": [2,2.1,2.2,2.3,2.4,2.5,2.6,2.7,2.8,2.9,3,3.1,3.2,3.3,3.4,3.5,3.6,3.7,3.8,3.9,4,4.1,4.2,4.3,4.4,4.5,4.6,4.7,4.8,4.9,5], "labelExpr": "abs(datum.value*2 - round(datum.value*2)) < 0.001 ? format(datum.value, '~g') : ''", "tickSize": {"condition": {"test": "abs(datum.value*2 - round(datum.value*2)) < 0.001", "value": -6}, "value": -3.5}}}},
 "layer": [
  {"mark": {"type": "line", "interpolate": "step", "color": "#ff0000", "strokeWidth": 1.5, "clip": true}, "encoding": {"y": {"field": "dj", "type": "quantitative", "scale": {"type": "log", "domain": [1, 1600], "nice": false}, "axis": {"title": null, "tickCount": 200, "values": [1,2,3,4,5,6,7,8,9,10,20,30,40,50,60,70,80,90,100,200,300,400,500,600,700,800,900,1000], "labelExpr": "datum.value === 1 ? '1' : datum.value === 10 ? '10' : datum.value === 100 ? '10²' : datum.value === 1000 ? '10³' : ''", "labelFontSize": {"condition": {"test": "indexof([1,10,100,1000], datum.value) >= 0", "value": 11}, "value": 0}, "tickSize": {"condition": {"test": "indexof([1,10,100,1000], datum.value) >= 0", "value": -5}, "value": -3}}}}},
  {"mark": {"type": "line", "interpolate": "step", "color": "#0000ff", "strokeWidth": 1.5, "clip": true}, "encoding": {"y": {"field": "rg", "type": "quantitative", "title": null}}},
  {"mark": {"type": "point", "filled": true, "color": "#000000", "size": 44, "opacity": 1, "strokeWidth": 0}, "encoding": {"y": {"field": "d", "type": "quantitative", "title": null},
    "shape": {"datum": "i)", "type": "nominal", "scale": {"domain": ["i)"], "range": ["circle"]}, "legend": {"legendX": 248.5, "legendY": 4.5, "symbolSize": 0, "symbolOpacity": 0, "symbolStrokeWidth": 0, "labelOffset": 0, "labelFontSize": 13}}}}
 ]}
]
}
